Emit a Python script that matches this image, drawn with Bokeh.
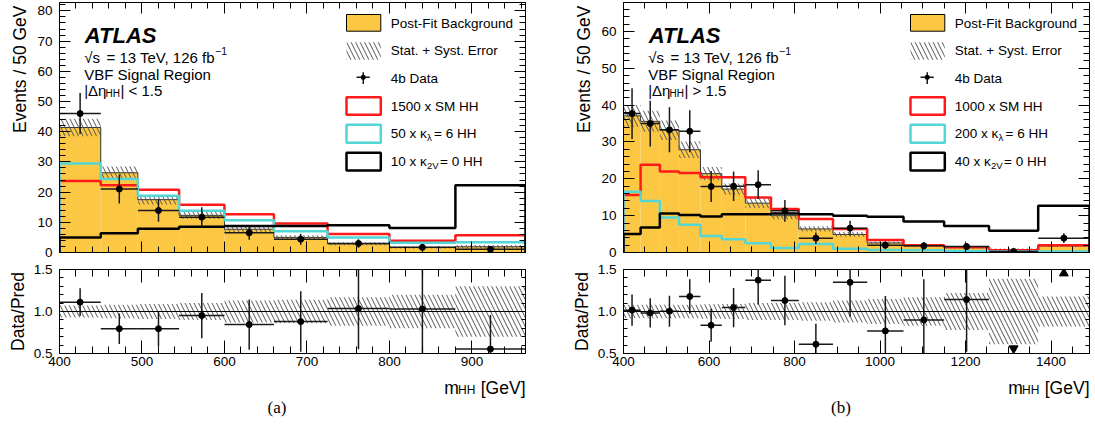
import math
from bokeh.plotting import figure
from bokeh.models import (Range1d, SingleIntervalTicker, FixedTicker, LinearAxis,
                          PrintfTickFormatter, Label, BoxAnnotation, Span)
from bokeh.layouts import row, column
from bokeh.embed import file_html
from bokeh.resources import INLINE

# ---------------- panel (a): |Δη_HH| < 1.5 ----------------
a_edges = [400, 450, 495, 545, 600, 660, 725, 800, 880, 965]
a_bkg = [41.4, 26.4, 17.5, 12.3, 7.7, 5.0, 2.9, 1.65, 1.9]
a_bkg_relerr = [0.07, 0.08, 0.09, 0.10, 0.13, 0.14, 0.17, 0.20, 0.30]
a_data = [46.0, 21.0, 13.9, 11.7, 6.5, 4.4, 3.0, 1.7, 1.05]
a_data_err = [6.8, 4.8, 3.7, 3.3, 2.3, 1.8, 1.4, 1.0, 0.77]
a_sm = [23.7, 22.3, 20.8, 15.8, 12.7, 9.6, 6.1, 3.9, 5.7]
a_kl6 = [29.5, 24.3, 18.8, 13.8, 10.7, 7.0, 5.0, 3.2, 3.4]
a_k2v0 = [5.0, 6.4, 7.9, 8.5, 8.8, 8.8, 9.0, 8.1, 22.3]
a_legend = ["Post-Fit Background", "Stat. + Syst. Error", "4b Data",
            "1500 x SM HH", "50 x \u03ba", "10 x \u03ba"]

# ---------------- panel (b): |Δη_HH| > 1.5 ----------------
b_edges = [400, 440, 485, 530, 580, 630, 685, 745, 810, 890, 970, 1055, 1150, 1255, 1370, 1490]
b_bkg = [37.1, 35.6, 33.2, 27.9, 21.4, 17.2, 13.4, 10.0, 6.4, 4.9, 2.6, 2.0, 1.4, 0.8, 1.8]
b_bkg_relerr = [0.08, 0.08, 0.08, 0.08, 0.085, 0.09, 0.10, 0.10, 0.11, 0.13, 0.15, 0.17, 0.22, 0.39, 0.18]
b_data = [37.7, 35.0, 33.3, 32.9, 17.9, 18.0, 18.4, 11.3, 3.9, 6.6, 2.0, 1.8, 1.6, 0.3, 3.9]
b_data_err = [6.9, 6.2, 6.1, 5.7, 4.2, 4.0, 3.9, 2.95, 1.56, 2.0, 1.08, 0.97, 0.87, 0.4, 1.3]
b_sm = [15.6, 23.8, 22.0, 21.6, 20.4, 20.4, 14.9, 11.8, 9.1, 6.4, 3.4, 2.0, 1.4, 0.6, 2.0]
b_kl6 = [16.5, 14.0, 9.5, 7.5, 4.5, 3.6, 2.5, 1.2, 2.3, 1.0, 0.7, 0.6, 0.4, 0.3, 0.3]
b_k2v0 = [5.0, 6.8, 10.6, 10.2, 9.8, 10.4, 10.4, 10.6, 10.4, 10.0, 9.7, 8.4, 7.2, 5.9, 12.7]
b_legend = ["Post-Fit Background", "Stat. + Syst. Error", "4b Data",
            "1000 x SM HH", "200 x \u03ba", "40 x \u03ba"]

ratio_ticks = [0.5, 1.0, 1.5]
ratio_minor = [0.6, 0.7, 0.8, 0.9, 1.1, 1.2, 1.3, 1.4]

FONT = "Liberation Sans"
YELLOW = "#FCC844"
CYAN = "#52D6D6"
RED = "#FF1A1A"
HATCH = "#555555"
HSCALE = 9
FW = 466
TOP_T = 2
TOP_H = 250
TOP_B = 8
RAT_H = 84
RAT_T = 9
RAT_B = 20
CAP_H = 46
YL_W = 30
BL = 28


def edge_path(edges, vals):
    xs, ys = [edges[0]], [0.0]
    for i, v in enumerate(vals):
        xs += [edges[i], edges[i + 1]]
        ys += [v, v]
    xs.append(edges[-1])
    ys.append(0.0)
    return xs, ys


def set_axis(ax, maj, mnr, show):
    ax.major_tick_in = maj
    ax.major_tick_out = 0
    ax.minor_tick_in = mnr
    ax.minor_tick_out = 0
    ax.axis_line_color = "black"
    ax.major_tick_line_color = "black"
    ax.minor_tick_line_color = "black"
    if show:
        ax.major_label_text_font = FONT
        ax.major_label_text_font_size = "13.5px"
        ax.major_label_text_color = "black"
    else:
        ax.major_label_text_font_size = "0px"
        ax.major_label_text_alpha = 0
        ax.major_label_standoff = 0


def mirror(p, ticker, side, maj, mnr):
    ax = LinearAxis(ticker=ticker)
    set_axis(ax, maj, mnr, False)
    p.add_layout(ax, side)


def lbl(p, x, y, text, size, **kw):
    opts = dict(x=x, y=y, x_units="screen", y_units="screen", text=text,
                text_font=FONT, text_font_size=size, text_color="black",
                text_align="left", text_baseline="alphabetic")
    opts.update(kw)
    p.add_layout(Label(**opts))


def box(p, l, r, b, t, **kw):
    opts = dict(left=l, right=r, bottom=b, top=t, left_units="screen", right_units="screen",
                bottom_units="screen", top_units="screen", fill_color=None, fill_alpha=1.0,
                line_color=None, line_alpha=1.0)
    opts.update(kw)
    bx = BoxAnnotation(**opts)
    p.add_layout(bx)
    return bx


def text_fig(w, h, left=0, right=0):
    f = figure(frame_width=w, frame_height=h, x_range=Range1d(0, 1), y_range=Range1d(0, 1),
               output_backend="svg", toolbar_location=None,
               min_border_left=left, min_border_right=right, min_border_top=0, min_border_bottom=0)
    f.axis.visible = False
    f.grid.visible = False
    f.outline_line_color = None
    f.background_fill_color = "white"
    f.border_fill_color = "white"
    return f


def base_fig(xr, yr, h, rborder, top_b, bot_b):
    f = figure(frame_width=FW, frame_height=h, x_range=xr, y_range=yr,
               output_backend="svg", toolbar_location=None,
               min_border_left=BL, min_border_right=rborder,
               min_border_top=top_b, min_border_bottom=bot_b)
    f.grid.visible = False
    f.outline_line_color = "black"
    f.background_fill_color = "white"
    f.border_fill_color = "white"
    return f


def make_panel(edges, bkg, relerr, data, derr, sm, kl6, k2v0, ymax, xint, xminor, rborder,
               legend, sub_x, tail_x, eta_sign, caption):
    lefts = edges[:-1]
    rights = edges[1:]
    centers = [(l + r) / 2 for l, r in zip(lefts, rights)]
    err = [b * e for b, e in zip(bkg, relerr)]
    xr = Range1d(edges[0], edges[-1])

    top = base_fig(xr, Range1d(0, ymax), TOP_H, rborder, TOP_T, TOP_B)
    xt = SingleIntervalTicker(interval=xint, num_minor_ticks=xminor)
    yt = SingleIntervalTicker(interval=10, num_minor_ticks=5)
    top.xaxis.ticker = xt
    top.yaxis.ticker = yt
    set_axis(top.xaxis[0], 11, 6, False)
    set_axis(top.yaxis[0], 11, 6, True)
    top.yaxis[0].major_label_standoff = 7
    mirror(top, xt, "above", 11, 6)
    mirror(top, yt, "right", 11, 6)

    # background, band, signals, data
    top.quad(left=lefts, right=rights, bottom=0, top=bkg, fill_color=YELLOW, line_color=None)
    xs, ys = edge_path(edges, bkg)
    top.line(xs, ys, line_color="#333333", line_width=1)
    top.quad(left=lefts, right=rights, bottom=[b - e for b, e in zip(bkg, err)],
             top=[b + e for b, e in zip(bkg, err)], fill_color=None, line_color=None,
             hatch_pattern="\\", hatch_color=HATCH, hatch_scale=HSCALE, hatch_weight=1)
    for vals, col in ((sm, RED), (kl6, CYAN), (k2v0, "black")):
        xs, ys = edge_path(edges, vals)
        top.line(xs, ys, line_color=col, line_width=2.5)
    top.segment(x0=centers, x1=centers, y0=[d - e for d, e in zip(data, derr)],
                y1=[d + e for d, e in zip(data, derr)], line_color="#1a1a1a", line_width=1.5)
    top.segment(x0=lefts, x1=rights, y0=data, y1=data, line_color="#1a1a1a", line_width=1.5)
    top.scatter(centers, data, marker="circle", size=6, fill_color="black", line_color="black")

    # info text (screen units from frame bottom-left)
    lbl(top, 25.3, 217, "ATLAS", "22px", text_font_style="bold italic")
    lbl(top, 24.7, 195.5, "\u221as", "15px")
    lbl(top, 47.0, 195.5, "= 13 TeV, 126 fb", "15px")
    lbl(top, 155.5, 201.5, "\u22121", "10.5px")
    lbl(top, 24.7, 178.5, "VBF Signal Region", "15px")
    lbl(top, 24.7, 162, "|\u0394\u03b7", "15px")
    lbl(top, 46.0, 159.5, "HH", "10px")
    lbl(top, 61.0, 162, "| " + eta_sign + " 1.5", "15px")

    # legend
    rows_y = [229.3, 202.0, 173.7, 146.0, 118.7, 91.0]
    tx = 331.3
    for i, t in enumerate(legend):
        lbl(top, tx, rows_y[i], t, "13.5px", text_baseline="middle")
    lbl(top, sub_x[0], rows_y[4] - 3.5, "\u03bb", "9.5px", text_baseline="middle")
    lbl(top, tail_x[0], rows_y[4], "= 6 HH", "13.5px", text_baseline="middle")
    lbl(top, sub_x[1], rows_y[5] - 3.5, "2V", "9.5px", text_baseline="middle")
    lbl(top, tail_x[1], rows_y[5], "= 0 HH", "13.5px", text_baseline="middle")
    sl, sr = 287, 321.3
    box(top, sl, sr, 221.3, 238, fill_color=YELLOW, line_color="black", line_width=1)
    box(top, sl, sr, 192.7, 210.3, hatch_pattern="\\", hatch_color=HATCH, hatch_scale=HSCALE,
        hatch_weight=1)
    box(top, 297, 310.3, 174.6, 176.1, fill_color="#1a1a1a")
    box(top, 303.0, 304.5, 168.4, 180.3, fill_color="#1a1a1a")
    dot = box(top, 301.2, 306.2, 172.8, 177.8, fill_color="black")
    if "border_radius" in dot.properties():
        dot.border_radius = 3
    box(top, sl, sr, 137.7, 155.3, line_color=RED, line_width=2.5)
    box(top, sl, sr, 109.7, 127.7, line_color=CYAN, line_width=2.5)
    box(top, sl, sr, 82.0, 99.7, line_color="black", line_width=2.5)

    # ---------------- ratio ----------------
    rat = base_fig(xr, Range1d(ratio_ticks[0], ratio_ticks[-1]), RAT_H, rborder, RAT_T, RAT_B)
    rxt = SingleIntervalTicker(interval=xint, num_minor_ticks=xminor)
    ryt = FixedTicker(ticks=ratio_ticks, minor_ticks=ratio_minor)
    rat.xaxis.ticker = rxt
    rat.yaxis.ticker = ryt
    set_axis(rat.xaxis[0], 13, 7, True)
    rat.xaxis[0].major_label_standoff = 3
    set_axis(rat.yaxis[0], 8, 4, True)
    rat.yaxis[0].major_label_standoff = 7
    rat.yaxis[0].formatter = PrintfTickFormatter(format="%.1f")
    mirror(rat, rxt, "above", 13, 7)
    mirror(rat, ryt, "right", 8, 4)

    rat.quad(left=lefts, right=rights, bottom=[1 - e for e in relerr], top=[1 + e for e in relerr],
             fill_color=None, line_color=None,
             hatch_pattern="\\", hatch_color=HATCH, hatch_scale=HSCALE, hatch_weight=1)
    rat.add_layout(Span(location=1.0, dimension="width", line_color="black", line_width=1))
    ratio = [d / b for d, b in zip(data, bkg)]
    rerr = [e / b for e, b in zip(derr, bkg)]
    lo, hi = ratio_ticks[0], ratio_ticks[-1]
    idx_in = [i for i, r in enumerate(ratio) if lo <= r <= hi]
    idx_up = [i for i, r in enumerate(ratio) if r > hi]
    idx_dn = [i for i, r in enumerate(ratio) if r < lo]
    cx = [centers[i] for i in idx_in]
    ry = [ratio[i] for i in idx_in]
    re_ = [rerr[i] for i in idx_in]
    rat.segment(x0=cx, x1=cx, y0=[r - e for r, e in zip(ry, re_)], y1=[r + e for r, e in zip(ry, re_)],
                line_color="#1a1a1a", line_width=1.5)
    rat.segment(x0=[lefts[i] for i in idx_in], x1=[rights[i] for i in idx_in], y0=ry, y1=ry,
                line_color="#1a1a1a", line_width=1.5)
    rat.scatter(cx, ry, marker="circle", size=6, fill_color="black", line_color="black")
    if idx_up:
        rat.scatter([centers[i] for i in idx_up], [hi - 0.045] * len(idx_up), marker="triangle",
                    size=9, fill_color="black", line_color="black")
    if idx_dn:
        rat.scatter([centers[i] for i in idx_dn], [lo + 0.06] * len(idx_dn), marker="inverted_triangle",
                    size=9, fill_color="black", line_color="black")

    # ---------------- axis titles / caption ----------------
    cap = text_fig(FW, CAP_H, left=BL, right=rborder)
    lbl(cap, 384.7, 31.7, "m", "17.5px")
    lbl(cap, 398.5, 29.5, "HH", "12px")
    lbl(cap, FW, 32.0, "[GeV]", "17.5px", text_align="right")
    lbl(cap, 217.5, 12, caption, "17px", text_font="Liberation Serif",
        text_align="center", text_baseline="middle")

    top_total = TOP_T + TOP_H + TOP_B
    ylab_top = text_fig(YL_W, top_total)
    lbl(ylab_top, 19, top_total - 5, "Events / 50 GeV", "17.5px", angle=math.pi / 2,
        text_align="right", text_baseline="middle")
    ylab_rat = text_fig(YL_W, RAT_T + RAT_H + RAT_B)
    lbl(ylab_rat, 17, RAT_B + RAT_H / 2, "Data/Pred", "17.5px", angle=math.pi / 2,
        text_align="center", text_baseline="middle")

    return row(column(ylab_top, ylab_rat, spacing=0), column(top, rat, cap, spacing=0), spacing=0)


left = make_panel(a_edges, a_bkg, a_bkg_relerr, a_data, a_data_err, a_sm, a_kl6, a_k2v0,
                  TOP_H / 3.02, 100, 5, 39, a_legend, (367.5, 367.5), (374.5, 380.5), "<", "(a)")
right = make_panel(b_edges, b_bkg, b_bkg_relerr, b_data, b_data_err, b_sm, b_kl6, b_k2v0,
                   TOP_H / 3.684, 200, 4, 4, b_legend, (375.0, 367.5), (382.0, 380.5), ">", "(b)")

p = row(left, right, spacing=0)
open("out.html", "w").write(file_html(p, INLINE))
